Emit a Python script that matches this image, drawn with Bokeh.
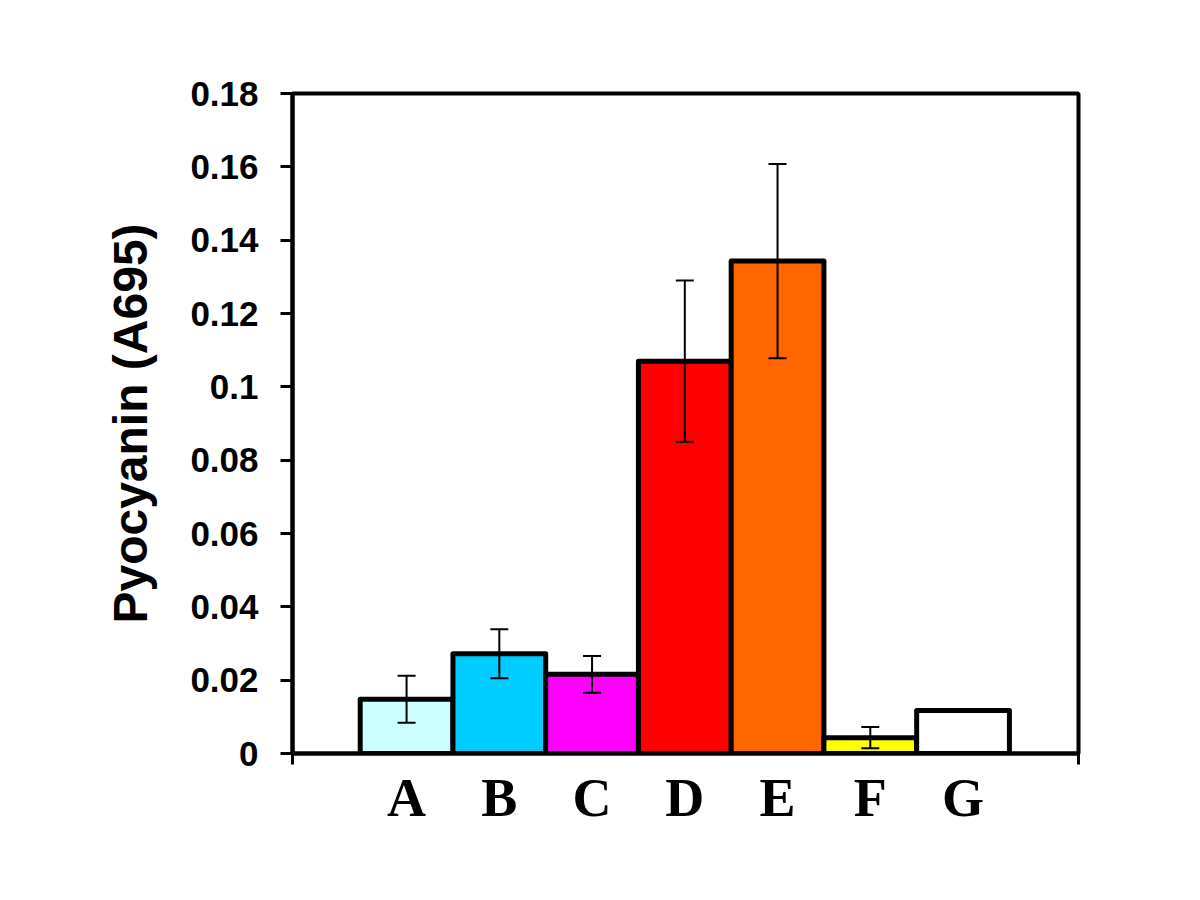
from bokeh.plotting import figure
from bokeh.models import ColumnDataSource, FixedTicker, Range1d, Whisker, TeeHead
from bokeh.embed import file_html
from bokeh.resources import INLINE
import numpy as np

categories = ["A", "B", "C", "D", "E", "F", "G"]
values = [0.0148, 0.0272, 0.0216, 0.107, 0.1343, 0.0043, 0.0117]
errors = [0.0064, 0.0067, 0.005, 0.022, 0.0265, 0.0029, 0.0]
colors = ["#CCFFFF", "#00CCFF", "#FF00FF", "#FF0000", "#FF6600", "#FFFF00", "#FFFFFF"]
y_ticks = [0, 0.02, 0.04, 0.06, 0.08, 0.1, 0.12, 0.14, 0.16, 0.18]
y_tick_labels = ["0", "0.02", "0.04", "0.06", "0.08", "0.1", "0.12", "0.14", "0.16", "0.18"]

x = np.arange(len(categories)).astype(float)
vals = np.array(values)
errs = np.array(errors)

src = ColumnDataSource(dict(x=x, top=vals, color=colors))
has_err = errs > 0
esrc = ColumnDataSource(dict(x=x[has_err], upper=(vals + errs)[has_err], lower=(vals - errs)[has_err]))

x_start, x_end = -1.23, 7.245

p = figure(width=1184, height=884, output_backend="svg", toolbar_location=None,
           x_range=Range1d(x_start, x_end), y_range=Range1d(0, 0.18),
           min_border_left=292, min_border_right=106, min_border_top=93, min_border_bottom=131)
p.background_fill_color = "white"
p.border_fill_color = "white"
p.grid.visible = False
p.outline_line_color = "black"
p.outline_line_width = 4

p.vbar(x="x", top="top", bottom=0, width=1.0, fill_color="color", line_color="black",
       line_width=5, line_join="round", source=src)

w = Whisker(source=esrc, base="x", upper="upper", lower="lower", line_color="black", line_width=2,
            level="overlay",
            upper_head=TeeHead(size=18, line_color="black", line_width=2),
            lower_head=TeeHead(size=18, line_color="black", line_width=2))
p.add_layout(w)

# y axis
p.yaxis.ticker = FixedTicker(ticks=y_ticks)
p.yaxis.major_label_overrides = {t: l for t, l in zip(y_ticks, y_tick_labels)}
p.yaxis.minor_tick_line_color = None
p.yaxis.axis_line_width = 4
p.yaxis.axis_line_color = "black"
p.yaxis.major_tick_line_width = 3
p.yaxis.major_tick_line_color = "black"
p.yaxis.major_tick_out = 12
p.yaxis.major_tick_in = 0
p.yaxis.major_label_standoff = 22
p.yaxis.major_label_text_font = "Liberation Sans"
p.yaxis.major_label_text_font_style = "bold"
p.yaxis.major_label_text_font_size = "35px"
p.yaxis.major_label_text_color = "black"
p.yaxis.axis_label = "Pyocyanin (A695)"
p.yaxis.axis_label_text_font = "Liberation Sans"
p.yaxis.axis_label_text_font_style = "bold"
p.yaxis.axis_label_text_font_size = "48px"
p.yaxis.axis_label_text_color = "black"
p.yaxis.axis_label_standoff = 30

# x axis
p.xaxis.ticker = FixedTicker(ticks=list(x), minor_ticks=[x_start, x_end])
p.xaxis.major_label_overrides = {float(i): c for i, c in zip(x, categories)}
p.xaxis.major_tick_line_color = None
p.xaxis.minor_tick_line_color = "black"
p.xaxis.minor_tick_line_width = 3
p.xaxis.minor_tick_out = 11
p.xaxis.minor_tick_in = 0
p.xaxis.axis_line_width = 4
p.xaxis.axis_line_color = "black"
p.xaxis.major_label_standoff = 3
p.xaxis.major_label_text_font = "Liberation Serif"
p.xaxis.major_label_text_font_style = "bold"
p.xaxis.major_label_text_font_size = "54px"
p.xaxis.major_label_text_color = "black"

open("out.html", "w").write(file_html(p, INLINE))
